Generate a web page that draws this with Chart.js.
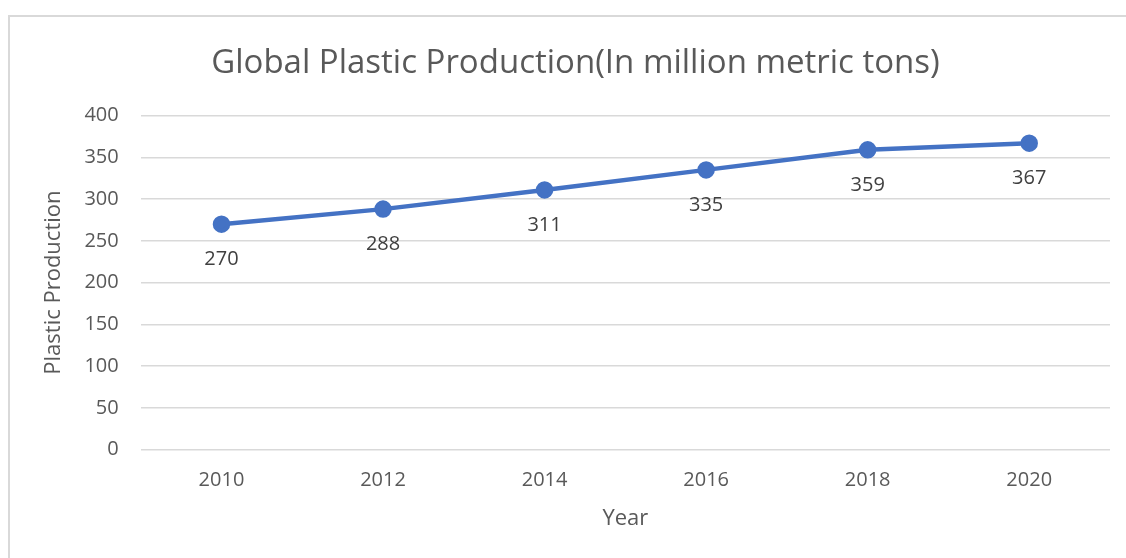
<!DOCTYPE html>
<html lang="en">

<head>
    <meta charset="UTF-8">
    <title>Global Plastic Production</title>
    <style>
        body { margin: 0; overflow: hidden; background: #fff; }
        #box {
            position: absolute; left: 8px; top: 15px;
            width: 1131px; height: 560px;
            border: 2px solid #d9d9d9; box-sizing: border-box;
        }
        canvas { display: block; }
    </style>
</head>

<body>
    <div id="box">
        <canvas id="myChart" width="1127" height="545"></canvas>
    </div>

    <script src="https://cdn.jsdelivr.net/npm/chart.js"></script>
    <script>
        const v_years = ['2010', '2012', '2014', '2016', '2018', '2020'];
        const v_production = [270, 288, 311, 335, 359, 367];
        const v_yTicks = [0, 50, 100, 150, 200, 250, 300, 350, 400];

        const ctx = document.getElementById('myChart');
        const v_font = "'Open Sans', sans-serif";

        // value labels under each point
        const labelPlugin = {
            id: 'pointLabels',
            afterDatasetsDraw(chart) {
                const c = chart.ctx;
                const meta = chart.getDatasetMeta(0);
                c.save();
                c.font = '20px ' + v_font;
                c.fillStyle = '#404040';
                c.textAlign = 'center';
                c.textBaseline = 'middle';
                meta.data.forEach(function (pt, i) {
                    c.fillText(v_production[i], pt.x, pt.y + 35);
                });
                c.restore();
            }
        };

        new Chart(ctx, {
            type: 'line',
            data: {
                labels: v_years,
                datasets: [{
                    data: v_production,
                    borderColor: '#4472C4',
                    backgroundColor: '#4472C4',
                    borderWidth: 4.5,
                    pointRadius: 6.5,
                    pointHoverRadius: 6.5,
                    tension: 0
                }]
            },
            plugins: [labelPlugin],
            options: {
                responsive: false,
                animation: false,
                layout: { padding: { left: 31, right: 27, top: 27, bottom: 30 } },
                plugins: {
                    legend: { display: false },
                    tooltip: { enabled: false },
                    title: {
                        display: true,
                        text: 'Global Plastic Production(In million metric tons)',
                        color: '#595959',
                        font: { family: v_font, size: 33, weight: 'normal' },
                        padding: { top: 0, bottom: 32 }
                    }
                },
                scales: {
                    x: {
                        offset: true,
                        grid: { display: false },
                        border: { display: false },
                        ticks: { color: '#595959', font: { family: v_font, size: 20 }, padding: 11 },
                        title: {
                            display: true, text: 'Year', color: '#595959',
                            font: { family: v_font, size: 22 }, padding: { top: 2, bottom: 0 }
                        }
                    },
                    y: {
                        min: 0, max: 400,
                        afterBuildTicks(axis) {
                            axis.ticks = v_yTicks.map(function (v) { return { value: v }; });
                        },
                        grid: { color: '#d9d9d9', lineWidth: 1.5, drawTicks: false },
                        border: { display: false },
                        ticks: { color: '#595959', font: { family: v_font, size: 20 }, padding: 22 },
                        title: {
                            display: true, text: 'Plastic Production', color: '#595959',
                            font: { family: v_font, size: 22 }, padding: { top: 0, bottom: -5 }
                        }
                    }
                }
            }
        });
    </script>
</body>

</html>
